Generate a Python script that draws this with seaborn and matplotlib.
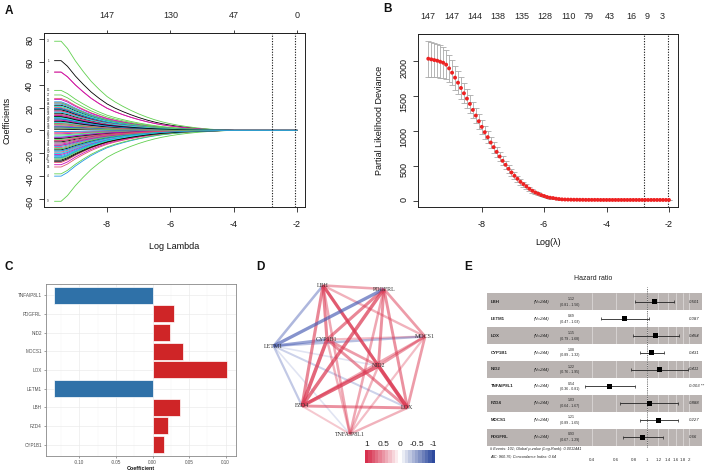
import numpy as np
import pandas as pd
import matplotlib
matplotlib.use('Agg')
import matplotlib.pyplot as plt
import seaborn as sns
from matplotlib.transforms import blended_transform_factory
from matplotlib.colors import LinearSegmentedColormap
from matplotlib.ticker import NullLocator

sns.set_theme(style='white')
plt.rcParams['font.family'] = ['Liberation Sans', 'DejaVu Sans']
plt.rcParams['axes.unicode_minus'] = False

W, H = 708, 475
def rect(x0, y0, x1, y1):
    return [x0 / W, 1 - y1 / H, (x1 - x0) / W, (y1 - y0) / H]

# ---------------- Panel A data (LASSO coefficient paths) ----------------
a_loglam = [-9.66, -9.45, -9.25, -9.0, -8.75, -8.5, -8.25, -8.0, -7.75, -7.5, -7.25, -7.0,
            -6.75, -6.5, -6.25, -6.0, -5.75, -5.5, -5.25, -5.0, -4.75, -4.5, -4.25, -4.0, -2.0]
a_shrink = [1.0, 1.0, 0.92, 0.78, 0.66, 0.55, 0.46, 0.38, 0.32, 0.27, 0.225, 0.185,
            0.15, 0.12, 0.095, 0.075, 0.058, 0.044, 0.032, 0.022, 0.014, 0.008, 0.003, 0.0, 0.0]
a_start = [61, 51, 78, -40, 12, 51,
           -26, 28, -62, 25, 18, 27,
           22, -32, 35, -22, -18, -30,
           -24, 20, -38, 16, 14, -12,
           10, -15, 31, -20, 8, 24,
           19, -28, 21, 6, -5, 17,
           -10, 13, -8, 11, -16, 4,
           3, 9, -25, -14, 21, -21,
           15, -19, 7, -6, 2, -3,
           -17, 5, 12, -23, -11, 9,
           18, -2, -13, 23, 7, -9,
           1, 14, -4, 19, -24, 13,
           -7, 17, 5, -1, 11, -13,
           8, -11, 24, 3, -20, 2,
           -27, 6, -16, 10, 16, -6,
           12, -9, 2, -18]
a_top_ticks = [-8, -6, -4, -2]
a_top_labels = ['147', '130', '47', '0']
a_cut = [-2.78, -2.05]

# ---------------- Panel B data (CV deviance) ----------------
b_dev = [2033, 2024, 2014, 2005, 1990, 1976, 1948, 1895, 1833, 1762, 1690, 1614, 1538, 1462,
         1386, 1300, 1219, 1138, 1057, 981, 910, 833, 767, 700, 633, 571, 514, 457, 405, 357,
         314, 271, 238, 205, 171, 143, 119, 100, 81, 67, 52, 43, 38, 29, 24, 19, 17, 16, 15,
         14, 14, 13, 13, 12, 12, 12, 12, 12, 11, 11, 11, 11, 11, 11, 11, 11, 11, 11, 11, 11,
         11, 11, 11, 11, 11, 11, 11, 11, 11, 11, 11, 11]
b_se = [255, 250, 245, 240, 235, 225, 212, 195, 182, 172, 162, 152, 144, 136, 128, 120, 113,
        106, 100, 95, 90, 85, 80, 75, 70, 65, 60, 56, 52, 48, 44, 40, 37, 34, 31, 28, 25, 22,
        20, 18, 16, 14, 12, 10, 9, 8, 7, 6, 6, 5, 5, 5, 5, 4, 4, 4, 4, 4, 4, 4, 4, 4, 4, 4, 4,
        4, 4, 4, 4, 4, 4, 4, 4, 4, 4, 4, 4, 4, 4, 4, 4, 4]
b_loglam = np.linspace(-9.71, -2.0, len(b_dev))
b_top_pos = [-9.74, -8.96, -8.21, -7.47, -6.72, -5.97, -5.22, -4.58, -3.91, -3.21, -2.71, -2.21]
b_top_labels = ['147', '147', '144', '138', '135', '128', '110', '79', '43', '16', '9', '3']
b_cut = [-2.79, -2.02]

# ---------------- Panel C data (coefficients) ----------------
c_genes = ['TNFAIP8L1', 'PDGFRL', 'NID2', 'MOCS1', 'LOX', 'LETM1', 'LBH', 'FZD4', 'CYP1B1']
c_coef = [-0.1339, 0.0295, 0.0240, 0.0410, 0.1020, -0.1342, 0.0380, 0.0205, 0.0155]

# ---------------- Panel D data (correlation network) ----------------
d_genes = ['LBH', 'PDGFRL', 'MOCS1', 'CYP1B1', 'LETM1', 'NID2', 'FZD4', 'LOX', 'TNFAIP8L1']
d_edges = [
    ('LBH', 'PDGFRL', 0.40), ('LBH', 'CYP1B1', 0.55), ('LBH', 'NID2', 0.60),
    ('LBH', 'LOX', 0.45), ('LBH', 'FZD4', 0.55), ('LBH', 'TNFAIP8L1', 0.40),
    ('LBH', 'MOCS1', 0.35), ('LBH', 'LETM1', -0.40), ('PDGFRL', 'LETM1', -0.60),
    ('PDGFRL', 'CYP1B1', 0.55), ('PDGFRL', 'FZD4', 0.65), ('PDGFRL', 'NID2', 0.50),
    ('PDGFRL', 'LOX', 0.50), ('PDGFRL', 'MOCS1', 0.45), ('PDGFRL', 'TNFAIP8L1', 0.40),
    ('CYP1B1', 'FZD4', 0.70), ('CYP1B1', 'NID2', 0.45), ('CYP1B1', 'LOX', 0.50),
    ('CYP1B1', 'MOCS1', 0.30), ('CYP1B1', 'TNFAIP8L1', 0.35), ('CYP1B1', 'LETM1', -0.50),
    ('LETM1', 'MOCS1', -0.35), ('LETM1', 'LOX', -0.25), ('LETM1', 'FZD4', -0.30),
    ('LETM1', 'TNFAIP8L1', -0.15), ('LETM1', 'NID2', -0.15), ('NID2', 'FZD4', 0.70),
    ('NID2', 'LOX', 0.75), ('NID2', 'MOCS1', 0.45), ('NID2', 'TNFAIP8L1', 0.35),
    ('FZD4', 'LOX', 0.50), ('FZD4', 'MOCS1', 0.40), ('FZD4', 'TNFAIP8L1', 0.25),
    ('LOX', 'TNFAIP8L1', 0.35), ('LOX', 'MOCS1', 0.45), ('MOCS1', 'TNFAIP8L1', 0.30),
]
d_legend_ticks = [1, 0.5, 0, -0.5, -1]
d_legend_labels = ['1', '0.5', '0', '-0.5', '-1']

# ---------------- Panel E data (multivariate Cox) ----------------
e_genes = ['LBH', 'LETM1', 'LOX', 'CYP1B1', 'NID2', 'TNFAIP8L1', 'FZD4', 'MOCS1', 'PDGFRL']
e_hr = [1.12, 0.69, 1.15, 1.08, 1.22, 0.54, 1.03, 1.21, 0.93]
e_lo = [0.81, 0.47, 0.79, 0.89, 0.76, 0.36, 0.64, 0.89, 0.67]
e_hi = [1.56, 1.03, 1.68, 1.32, 1.95, 0.81, 1.67, 1.65, 1.29]
e_p = ['0.501', '0.087', '0.454', '0.431', '0.411', '0.003 **', '0.888', '0.227', '0.66']
e_n = 244
e_ticks = [0.4, 0.6, 0.8, 1, 1.2, 1.4, 1.6, 1.8, 2]
e_tick_labels = ['0.4', '0.6', '0.8', '1', '1.2', '1.4', '1.6', '1.8', '2']
e_note1 = '# Events: 101; Global p-value (Log-Rank): 0.0011441'
e_note2 = 'AIC: 960.76; Concordance Index: 0.64'

fig = plt.figure(figsize=(7.08, 4.75), dpi=100)
fig.patch.set_facecolor('white')

def r_style(ax):
    for s in ax.spines.values():
        s.set_visible(True)
        s.set_color('#222222')
        s.set_linewidth(0.7)
    ax.tick_params(axis='both', direction='out', length=3.5, width=0.6, color='#222222',
                   labelsize=6.5, labelcolor='#111111', bottom=True, left=True)
    ax.tick_params(axis='x', pad=6)
    ax.tick_params(axis='y', pad=3.5, labelrotation=90)
    ax.set_facecolor('white')

# ---------------- Panel A ----------------
axA = fig.add_axes(rect(44, 33, 305, 207))
rows = []
for i, s in enumerate(a_start):
    for l, f in zip(a_loglam, a_shrink):
        rows.append((f'v{i:03d}', l, s * f))
dfA = pd.DataFrame(rows, columns=['var', 'loglam', 'coef'])
r_pal = ['#000000', '#DF536B', '#61D04F', '#2297E6', '#28E2E5', '#CD0BBC']
palA = {f'v{i:03d}': r_pal[i % 6] for i in range(len(a_start))}
sns.lineplot(data=dfA, x='loglam', y='coef', hue='var', palette=palA, legend=False,
             linewidth=0.6, estimator=None, sort=False, ax=axA)
# variable labels at the left end (only those that do not collide)
last = None
for i in sorted(range(len(a_start)), key=lambda j: a_start[j]):
    s = a_start[i]
    if last is None or s - last >= 2.6:
        axA.text(-9.86, s, str(i + 1), fontsize=2.2, ha='center', va='center', color='#222222')
        last = s
for c in a_cut:
    axA.axvline(c, color='#111111', ls=(0, (1.0, 1.4)), lw=0.8)
axA.set_xlim(-9.99, -1.75)
axA.set_ylim(-67, 85.2)
axA.set_xticks([-8, -6, -4, -2])
axA.set_yticks(list(range(-60, 81, 20)))
r_style(axA)
axA.set_xlabel('Log Lambda', fontsize=6.5, color='#111111')
axA.set_ylabel('Coefficients', fontsize=6.5, color='#111111')
axA.xaxis.set_label_coords(0.5, -0.20)
axA.yaxis.set_label_coords(-0.125, 0.5)
secA = axA.secondary_xaxis('top')
secA.set_xticks(a_top_ticks, labels=a_top_labels)
secA.tick_params(length=2, width=0.6, pad=7, labelsize=6.5, color='#222222')
secA.spines['top'].set_color('#222222')
secA.spines['top'].set_linewidth(0.7)

# ---------------- Panel B ----------------
axB = fig.add_axes(rect(418, 34, 678, 207))
axB.errorbar(b_loglam, b_dev, yerr=b_se, fmt='none', ecolor='#AAAAAA', elinewidth=0.6,
             capsize=2.4, capthick=0.6, zorder=2)
sns.scatterplot(x=b_loglam, y=b_dev, color='#EE2222', s=8, edgecolor='none', ax=axB, zorder=3)
for c in b_cut:
    axB.axvline(c, color='#111111', ls=(0, (1.0, 1.4)), lw=0.8)
axB.set_xlim(-10.04, -1.71)
axB.set_ylim(-90, 2387)
axB.set_xticks([-8, -6, -4, -2])
axB.set_yticks([0, 500, 1000, 1500, 2000])
r_style(axB)
axB.set_xlabel('Log(\u03bb)', fontsize=6.5, color='#111111')
axB.set_ylabel('Partial Likelihood Deviance', fontsize=6.5, color='#111111')
axB.xaxis.set_label_coords(0.5, -0.18)
axB.yaxis.set_label_coords(-0.13, 0.5)
secB = axB.secondary_xaxis('top')
secB.set_xticks(b_top_pos, labels=b_top_labels)
secB.tick_params(length=0, pad=9, labelsize=6.5)
secB.spines['top'].set_color('#222222')
secB.spines['top'].set_linewidth(0.7)

# ---------------- Panel C ----------------
axC = fig.add_axes(rect(45.7, 284, 236, 455.7))
dfC = pd.DataFrame({'gene': c_genes, 'coef': c_coef,
                    'dir': ['neg' if v < 0 else 'pos' for v in c_coef]})
sns.barplot(data=dfC, x='coef', y='gene', hue='dir', order=c_genes,
            palette={'neg': '#2F71A8', 'pos': '#CF2527'}, dodge=False, width=0.9,
            saturation=1, edgecolor='white', linewidth=0.5, legend=False, ax=axC, zorder=3)
axC.set_xlim(-0.1459, 0.114)
axC.set_ylim(8.6, -0.6)
axC.set_xticks([-0.10, -0.05, 0.0, 0.05, 0.10])
axC.set_xticklabels(['-0.10', '-0.05', '0.00', '0.05', '0.10'])
axC.set_xticks([-0.125, -0.075, -0.025, 0.025, 0.075], minor=True)
axC.set_axisbelow(True)
axC.grid(True, which='major', color='#EBEBEB', lw=0.5)
axC.grid(True, which='minor', axis='x', color='#F3F3F3', lw=0.3)
for s in axC.spines.values():
    s.set_visible(True)
    s.set_color('#888888')
    s.set_linewidth(0.6)
axC.tick_params(axis='both', which='major', length=1.6, width=0.4, color='#555555',
                labelsize=3.3, labelcolor='#4D4D4D', pad=1.2, bottom=True, left=True)
axC.tick_params(axis='both', which='minor', length=0)
axC.set_xlabel('Coefficient', fontsize=3.9, fontweight='bold', labelpad=0.8, color='#111111')
axC.set_ylabel('')

# ---------------- Panel D ----------------
axD = fig.add_axes(rect(262, 278, 440, 440))
d_layout = {
    'LBH': (0.343, 0.954), 'PDGFRL': (0.685, 0.932), 'MOCS1': (0.916, 0.639),
    'CYP1B1': (0.365, 0.620), 'LETM1': (0.065, 0.580), 'NID2': (0.654, 0.457),
    'FZD4': (0.225, 0.210), 'LOX': (0.817, 0.198), 'TNFAIP8L1': (0.494, 0.037),
}
pos_rgb = np.array([0.86, 0.22, 0.32])
neg_rgb = np.array([0.28, 0.36, 0.70])
for a, b, r in sorted(d_edges, key=lambda e: abs(e[2])):
    rgb = pos_rgb if r > 0 else neg_rgb
    alpha = min(1.0, 1.1 * abs(r))
    (x0, y0), (x1, y1) = d_layout[a], d_layout[b]
    axD.plot([x0, x1], [y0, y1], color=(*rgb, alpha), lw=0.8 + 2.6 * abs(r),
             solid_capstyle='butt', zorder=1)
for g in d_genes:
    x, y = d_layout[g]
    axD.text(x, y, g, fontsize=4.3, ha='center', va='center', color='#333333',
             family=['Liberation Serif', 'DejaVu Serif'], zorder=3)
axD.set_xlim(0, 1)
axD.set_ylim(0, 1)
axD.axis('off')

axCB = fig.add_axes(rect(365, 450, 435, 463))
cmap = LinearSegmentedColormap.from_list('rb', [(0.0, '#2E4A9E'), (0.5, '#FFFFFF'), (1.0, '#D7304E')])
vals = np.linspace(1, -1, 21)
axCB.imshow(vals[None, :], extent=(1.05, -1.05, 0, 1), aspect='auto', cmap=cmap, vmin=-1, vmax=1)
axCB.set_xlim(1.05, -1.05)
axCB.set_ylim(0, 1)
axCB.set_yticks([])
axCB.set_xticks(d_legend_ticks, labels=d_legend_labels)
axCB.xaxis.tick_top()
axCB.tick_params(axis='x', length=0, pad=1.5, labelsize=6, labelcolor='#222222')
for s in axCB.spines.values():
    s.set_visible(False)

# ---------------- Panel E ----------------
axE = fig.add_axes(rect(486.7, 293.3, 702.3, 445.7))
axE.set_xscale('log')
axE.set_xlim(0.0709, 2.474)
axE.set_ylim(9.5, 0.5)
rows_e = list(range(1, len(e_genes) + 1))
for k in rows_e:
    if k % 2 == 1:
        axE.axhspan(k - 0.5, k + 0.5, color='#BAB4B2', lw=0, zorder=0)
for t in e_ticks:
    axE.axvline(t, color='white', lw=0.4, alpha=0.7, zorder=1)
axE.axvline(1, ymin=-0.01, ymax=1.043, clip_on=False, ls=(0, (1, 1.2)), color='#444444',
            lw=0.6, zorder=2)
axE.hlines(rows_e, e_lo, e_hi, color='#222222', lw=0.6, zorder=3)
axE.vlines(e_lo, [k - 0.1 for k in rows_e], [k + 0.1 for k in rows_e], color='#222222', lw=0.5, zorder=3)
axE.vlines(e_hi, [k - 0.1 for k in rows_e], [k + 0.1 for k in rows_e], color='#222222', lw=0.5, zorder=3)
sns.scatterplot(x=e_hr, y=rows_e, marker='s', s=13, color='black', edgecolor='none', ax=axE, zorder=4)
tr = blended_transform_factory(axE.transAxes, axE.transData)
for k, g, hr, lo, hi, p in zip(rows_e, e_genes, e_hr, e_lo, e_hi, e_p):
    axE.text(0.019, k, g, transform=tr, fontsize=3.2, fontweight='bold', ha='left', va='center', color='#222222')
    axE.text(0.219, k, f'(N={e_n})', transform=tr, fontsize=3.2, style='italic', ha='left', va='center', color='#222222')
    axE.text(0.391, k - 0.17, f'{hr:.2f}', transform=tr, fontsize=2.5, ha='center', va='center', color='#222222')
    axE.text(0.386, k + 0.17, f'({lo:.2f} - {hi:.2f})', transform=tr, fontsize=2.5, ha='center', va='center', color='#222222')
    axE.text(0.938, k, p, transform=tr, fontsize=3.1, style='italic', ha='left', va='center', color='#222222')
axE.text(0.015, -0.024, e_note1, transform=axE.transAxes, fontsize=2.8, style='italic', ha='left', va='center', color='#222222')
axE.text(0.015, -0.068, e_note2, transform=axE.transAxes, fontsize=2.8, style='italic', ha='left', va='center', color='#222222')
axE.set_xticks(e_ticks, labels=e_tick_labels)
axE.xaxis.set_minor_locator(NullLocator())
axE.tick_params(axis='x', length=0, pad=9, labelsize=3.2, labelcolor='#333333', bottom=True)
axE.set_yticks([])
for s in axE.spines.values():
    s.set_visible(False)
axE.set_facecolor('none')
axE.set_xlabel('')
axE.set_ylabel('')
fig.text(593 / W, 1 - 279 / H, 'Hazard ratio', fontsize=5, ha='center', va='center', color='#222222')

# Panel letters
for lab, (px, py) in {'A': (9, 11), 'B': (387, 9.5), 'C': (9, 267), 'D': (260, 267), 'E': (468, 267)}.items():
    fig.text(px / W, 1 - py / H, lab, fontsize=8.5, fontweight='bold', ha='center', va='center', color='#111111')

fig.savefig('out.png', dpi=100, facecolor='white')
